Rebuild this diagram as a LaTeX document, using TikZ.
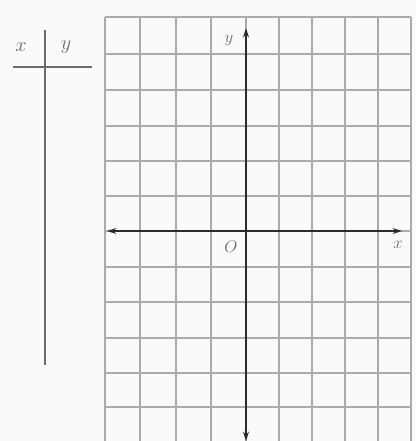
\documentclass[tikz,border=0pt]{standalone}
\usepackage{tikz}
\usetikzlibrary{arrows.meta}
\definecolor{paper}{HTML}{FAFAF8}
\definecolor{ink}{HTML}{2A2A2A}
\definecolor{gridgray}{HTML}{ABABAB}

\begin{document}
\begin{tikzpicture}[x=0.03cm, y=-0.03cm,
			every node/.style={font=\Large, color=ink!70},
			tablabel/.style={font=\LARGE, color=ink!70},
			gridline/.style={draw=gridgray, line width=1.3pt},
			axis/.style={{Stealth[length=8pt,width=5pt]}-{Stealth[length=8pt,width=5pt]}, draw=ink, line width=1.8pt},
			tabline/.style={draw=gray!85!black, line width=1.4pt}
		]
		\fill[paper] (0,0) rectangle (416,441);
		\clip (0,0) rectangle (416,441);

		% table x | y
		\coordinate (tT) at (45,30);
		\coordinate (tB) at (45,365);
		\coordinate (tL) at (13,67);
		\coordinate (tR) at (92,67);
		\draw[tabline] (tT) -- (tB);
		\draw[tabline] (tL) -- (tR);
		\node[tablabel] (tx) at (21,47) {$x$};
		\node[tablabel] (ty) at (66,47) {$y$};

		% grid
		\foreach \gx in {105,140,176,211,246,279,312,345,378,411}
			\draw[gridline] (\gx,17) -- (\gx,445);
		\foreach \gy in {17,54,90,126,161,196,231,267,302,338,373,407,442}
			\draw[gridline] (105,\gy) -- (411,\gy);

		% axes
		\coordinate (xL) at (107,231);
		\coordinate (xR) at (402,231);
		\coordinate (yT) at (246,28);
		\coordinate (yB) at (246,441);
		\draw[axis] (xL) -- (xR);
		\draw[axis] (yB) -- (yT);

		\node (ylab) at (229,41) {$y$};
		\node (orig) at (231,247) {$O$};
		\node (xlab) at (398,245) {$x$};
	\end{tikzpicture}
\end{document}
